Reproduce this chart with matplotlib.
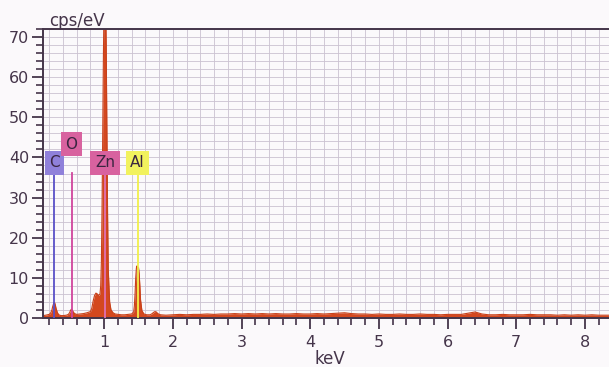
import matplotlib.pyplot as plt
from matplotlib.ticker import MultipleLocator

# spectrum (keV, cps/eV)
energy = [0.11, 0.15, 0.20, 0.22, 0.24, 0.25, 0.26, 0.27, 0.28, 0.29, 0.30, 0.32, 0.34, 0.37,
          0.40, 0.45, 0.48, 0.50, 0.51, 0.525, 0.54, 0.55, 0.57, 0.60, 0.65, 0.70, 0.75, 0.80,
          0.82, 0.84, 0.86, 0.88, 0.90, 0.92, 0.94, 0.95, 0.96, 0.97, 0.98, 0.99, 1.00, 1.01,
          1.02, 1.03, 1.04, 1.05, 1.06, 1.08, 1.10, 1.13, 1.16, 1.20, 1.25, 1.30, 1.35,
          1.40, 1.43, 1.44, 1.45, 1.46, 1.47, 1.48, 1.49, 1.50, 1.51, 1.52, 1.53, 1.55, 1.58,
          1.62, 1.67, 1.70, 1.72, 1.74, 1.76, 1.78, 1.82, 1.90,
          2.0, 2.1, 2.2, 2.3, 2.4, 2.5, 2.6, 2.7, 2.8, 2.9, 3.0, 3.1, 3.2, 3.3,
          3.4, 3.5, 3.6, 3.7, 3.8, 3.9, 4.0, 4.1, 4.2, 4.3, 4.4, 4.5, 4.6, 4.7,
          4.8, 4.9, 5.0, 5.1, 5.2, 5.3, 5.4, 5.5, 5.6, 5.7, 5.8, 5.9, 6.0, 6.1,
          6.2, 6.3, 6.4, 6.5, 6.6, 6.7, 6.8, 6.9, 7.0, 7.1, 7.2, 7.3, 7.4, 7.5,
          7.6, 7.7, 7.8, 7.9, 8.0, 8.1, 8.2, 8.3, 8.4]
counts = [0.6, 0.7, 0.9, 1.2, 2.0, 2.8, 3.4, 3.9, 3.8, 3.2, 2.4, 1.3, 0.8, 0.6,
          0.6, 0.7, 0.9, 1.4, 1.9, 2.2, 1.9, 1.5, 1.1, 0.9, 1.0, 1.1, 1.3, 1.6,
          2.4, 4.2, 5.6, 6.2, 6.0, 5.6, 6.0, 8.0, 14, 28, 48, 66, 80, 85,
          80, 68, 46, 26, 12, 4, 2.0, 1.3, 1.0, 0.9, 0.8, 0.8, 0.9,
          1.0, 1.5, 3.0, 6.0, 10.0, 12.5, 13.0, 12.0, 12.6, 11.0, 8.0, 4.5, 1.8, 1.0,
          0.8, 0.8, 1.1, 1.4, 1.6, 1.5, 1.1, 0.8, 0.7,
          0.8, 0.9, 0.8, 0.9, 0.9, 1.0, 0.9, 1.0, 1.0, 1.1, 1.0, 1.1, 1.0, 1.1,
          1.0, 1.1, 1.0, 1.0, 1.1, 1.0, 1.0, 1.1, 1.0, 1.1, 1.2, 1.3, 1.1, 1.0,
          1.0, 0.9, 1.0, 0.9, 0.9, 1.0, 0.9, 0.9, 1.0, 0.9, 0.9, 0.8, 0.9, 0.9,
          0.9, 1.2, 1.5, 1.0, 0.8, 0.8, 0.9, 0.8, 0.8, 0.8, 0.9, 0.8, 0.8, 0.8,
          0.7, 0.8, 0.7, 0.8, 0.7, 0.8, 0.7, 0.7, 0.7]

# element markers
elements = ["C", "O", "Zn", "Al"]
element_kev = [0.277, 0.525, 1.012, 1.487]
label_y = [38.7, 43.3, 38.7, 38.7]
line_top = [36.2, 36.2, 36.2, 36.2]
line_colors = ["#5a50c8", "#d0449c", "#e070b4", "#f2f04a"]
box_colors = ["#8f80da", "#d8629f", "#d8629f", "#f2f25e"]

bg = "#fbf9fb"
ink = "#45354a"

fig = plt.figure(figsize=(6.09, 3.67), dpi=100, facecolor=bg)
ax = fig.add_axes([43 / 609, 49 / 367, 566 / 609, 289 / 367], facecolor=bg)

ax.fill_between(energy, counts, 0, color="#d4481f", lw=0, zorder=2)
ax.plot(energy, counts, color="#c8401a", lw=0.8, zorder=2)

for name, e, ly, top, lc, bc in zip(elements, element_kev, label_y, line_top,
                                    line_colors, box_colors):
    ax.plot([e, e], [0, top], color=lc, lw=1.3, zorder=3)
    ax.text(e, ly, name, ha="center", va="center", fontsize=11, color="#3a2540",
            zorder=4, bbox=dict(boxstyle="square,pad=0.3", fc=bc, ec="none"))

ax.set_xlim(0.11, 8.35)
ax.set_ylim(0, 72)
ax.xaxis.set_major_locator(MultipleLocator(1))
ax.xaxis.set_minor_locator(MultipleLocator(0.2))
ax.yaxis.set_major_locator(MultipleLocator(10))
ax.yaxis.set_minor_locator(MultipleLocator(2))
ax.grid(which="both", color="#cbc2d0", lw=0.6, zorder=0)
ax.set_axisbelow(True)

for side in ["left", "top", "bottom"]:
    ax.spines[side].set_color(ink)
    ax.spines[side].set_linewidth(1.4)
ax.spines["right"].set_visible(False)

ax.tick_params(which="major", length=8, width=1.3, color=ink, labelcolor=ink,
               labelsize=11.5, pad=2)
ax.tick_params(which="minor", length=5, width=1.2, color=ink)
ax.tick_params(axis="x", pad=4)

fig.text(49 / 609, 1 - 21 / 367, "cps/eV", fontsize=12, color=ink, va="center")
fig.text(330 / 609, 1 - 359 / 367, "keV", fontsize=12, color=ink,
         ha="center", va="center")

fig.savefig("out.png", dpi=100, facecolor=bg)
